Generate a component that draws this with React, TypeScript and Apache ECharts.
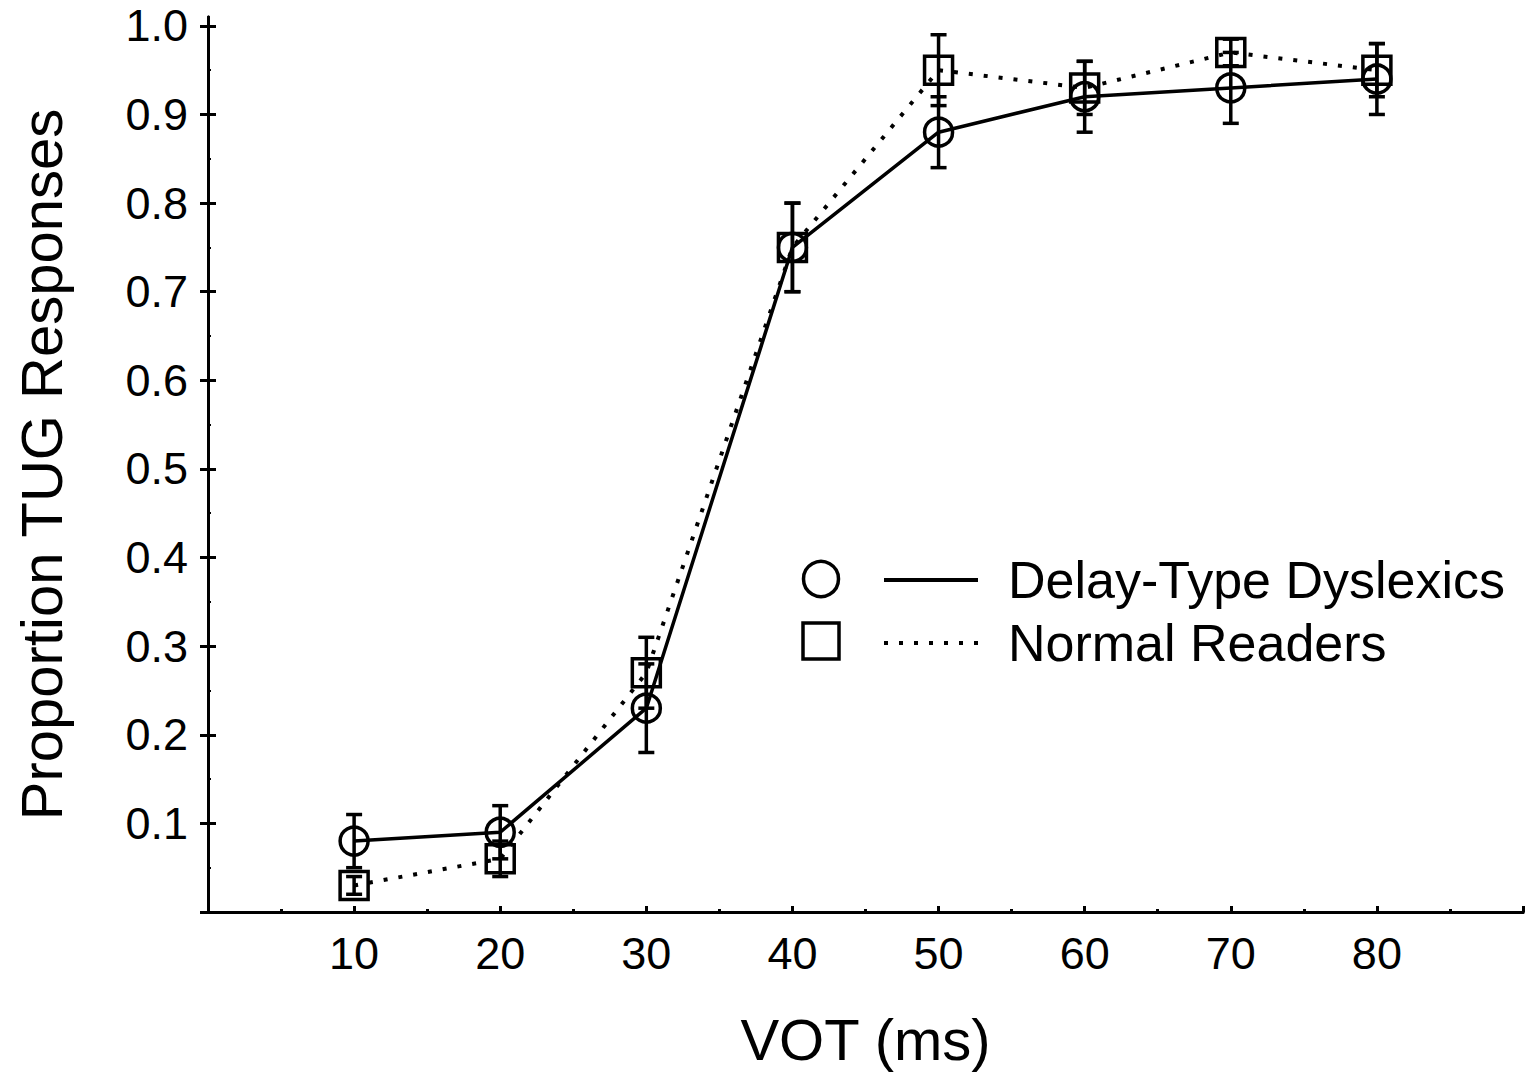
import React, { useEffect, useRef } from "react";
import * as echarts from "echarts";

const vot = [10, 20, 30, 40, 50, 60, 70, 80];
const dyslexics = [0.08, 0.09, 0.23, 0.75, 0.88, 0.92, 0.93, 0.94];
const dyslexicsErr = [0.03, 0.03, 0.05, 0.05, 0.04, 0.04, 0.04, 0.04];
const normal = [0.03, 0.06, 0.27, 0.75, 0.95, 0.93, 0.97, 0.95];
const normalErr = [0.01, 0.02, 0.04, 0.05, 0.04, 0.03, 0.015, 0.03];
const xTickLabels = ["10", "20", "30", "40", "50", "60", "70", "80"];
const yTickLabels = ["0.1", "0.2", "0.3", "0.4", "0.5", "0.6", "0.7", "0.8", "0.9", "1.0"];

const FONT = "'Liberation Sans', Arial, Helvetica, sans-serif";

function errorBarSeries(name: string, values: number[], errs: number[]) {
  return {
    type: "custom",
    name: name + " SE",
    z: 2,
    data: vot.map((v, i) => [v, values[i] - errs[i], values[i] + errs[i]]),
    renderItem: (params: any, api: any) => {
      const x = api.value(0);
      const lo = api.coord([x, api.value(1)]);
      const hi = api.coord([x, api.value(2)]);
      const hw = 8;
      const st = { stroke: "#000", lineWidth: 3.5 };
      return {
        type: "group",
        children: [
          { type: "line", shape: { x1: lo[0], y1: lo[1], x2: hi[0], y2: hi[1] }, style: st },
          { type: "line", shape: { x1: lo[0] - hw, y1: lo[1], x2: lo[0] + hw, y2: lo[1] }, style: st },
          { type: "line", shape: { x1: hi[0] - hw, y1: hi[1], x2: hi[0] + hw, y2: hi[1] }, style: st },
        ],
      };
    },
  };
}

export default function App() {
  const ref = useRef<HTMLDivElement>(null);
  useEffect(() => {
    if (!ref.current) return;
    const chart = echarts.init(ref.current, undefined, { renderer: "svg" });
    const xLabelSet = new Set(xTickLabels);
    const yTickValues = [0, ...yTickLabels.map(Number)];
    const axisLine = { show: true, lineStyle: { color: "#000", width: 3 } };
    chart.setOption({
      animation: false,
      backgroundColor: "#fff",
      grid: { left: 208, right: 2, top: 17, bottom: 166, containLabel: false },
      xAxis: [
        {
          type: "value",
          min: 0,
          max: 90,
          interval: 10,
          name: "VOT (ms)",
          nameLocation: "middle",
          nameGap: 98,
          nameTextStyle: { fontFamily: FONT, fontSize: 58, color: "#000" },
          axisLine,
          axisTick: { show: true, inside: true, length: 6, lineStyle: { color: "#000", width: 3 } },
          minorTick: { show: true, splitNumber: 2, length: 3, lineStyle: { color: "#000", width: 3 } },
          splitLine: { show: false },
          axisLabel: {
            fontFamily: FONT,
            fontSize: 45,
            color: "#000",
            margin: 19,
            formatter: (v: number) => (xLabelSet.has(String(v)) ? String(v) : ""),
          },
        },
        {
          type: "value",
          position: "top",
          min: 0,
          max: 90,
          interval: 10,
          axisLine,
          axisTick: { show: false },
          axisLabel: { show: false },
          splitLine: { show: false },
        },
      ],
      yAxis: [
        {
          type: "value",
          min: 0,
          max: 1.01,
          interval: 0.1,
          name: "Proportion TUG Responses",
          nameLocation: "middle",
          nameGap: 138,
          nameTextStyle: { fontFamily: FONT, fontSize: 58, color: "#000" },
          axisLine,
          axisTick: { show: true, inside: true, length: 8, customValues: yTickValues, lineStyle: { color: "#000", width: 3 } },
          minorTick: { show: true, splitNumber: 2, length: 3, lineStyle: { color: "#000", width: 2 } },
          splitLine: { show: false },
          minorSplitLine: { show: false },
          axisLabel: {
            fontFamily: FONT,
            fontSize: 45,
            color: "#000",
            margin: 20,
            customValues: yTickLabels.map(Number),
            formatter: (v: number) => v.toFixed(1),
          },
        },
        {
          type: "value",
          position: "right",
          min: 0,
          max: 1.01,
          interval: 0.1,
          axisLine,
          axisTick: { show: true, inside: true, length: 8, customValues: yTickValues, lineStyle: { color: "#000", width: 3 } },
          axisLabel: { show: false },
          splitLine: { show: false },
        },
      ],
      series: [
        errorBarSeries("Delay-Type Dyslexics", dyslexics, dyslexicsErr),
        errorBarSeries("Normal Readers", normal, normalErr),
        {
          type: "line",
          name: "Delay-Type Dyslexics",
          z: 3,
          data: vot.map((v, i) => [v, dyslexics[i]]),
          symbol: "circle",
          symbolSize: 28,
          itemStyle: { color: "rgba(0,0,0,0)", borderColor: "#000", borderWidth: 3.5 },
          lineStyle: { color: "#000", width: 3.5, type: "solid" },
        },
        {
          type: "line",
          name: "Normal Readers",
          z: 3,
          data: vot.map((v, i) => [v, normal[i]]),
          symbol: "rect",
          symbolSize: 28,
          itemStyle: { color: "rgba(0,0,0,0)", borderColor: "#000", borderWidth: 3.5 },
          lineStyle: { color: "#000", width: 4, type: [4, 11] },
        },
      ],
      graphic: [
        { type: "circle", shape: { cx: 821, cy: 579, r: 17.5 }, style: { fill: "none", stroke: "#000", lineWidth: 3.5 } },
        { type: "line", shape: { x1: 884, y1: 580, x2: 978, y2: 580 }, style: { stroke: "#000", lineWidth: 4 } },
        {
          type: "text",
          x: 1008,
          y: 580,
          style: { text: "Delay-Type Dyslexics", fontFamily: FONT, fontSize: 52, fill: "#000", textVerticalAlign: "middle", textAlign: "left" },
        },
        { type: "rect", shape: { x: 803, y: 623, width: 36, height: 36 }, style: { fill: "none", stroke: "#000", lineWidth: 3.5 } },
        { type: "line", shape: { x1: 884, y1: 643, x2: 978, y2: 643 }, style: { stroke: "#000", lineWidth: 4, lineDash: [4, 11] } },
        {
          type: "text",
          x: 1008,
          y: 643,
          style: { text: "Normal Readers", fontFamily: FONT, fontSize: 52, fill: "#000", textVerticalAlign: "middle", textAlign: "left" },
        },
      ],
    });
    return () => chart.dispose();
  }, []);
  return <div ref={ref} style={{ position: "absolute", left: 0, top: 0, width: 1526, height: 1078 }} />;
}
